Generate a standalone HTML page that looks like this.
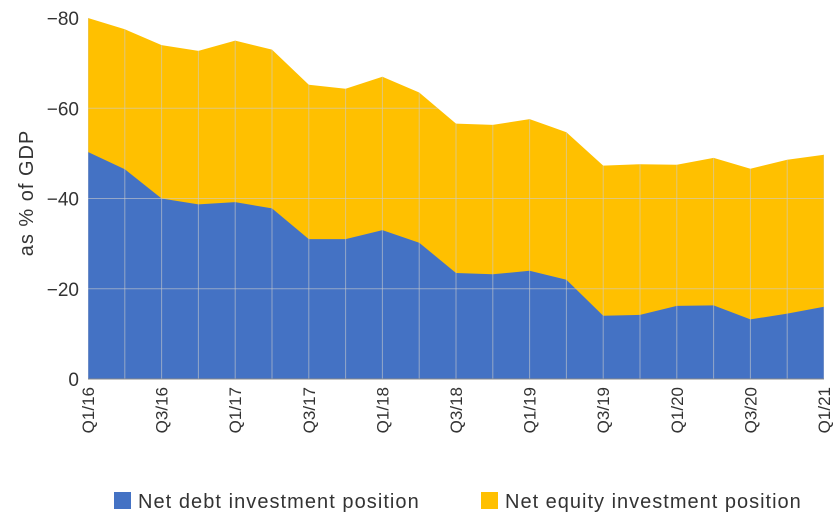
<!DOCTYPE html>
<html><head><meta charset="utf-8"><style>
body{margin:0;background:#fff;}
svg text{font-family:"Liberation Sans",sans-serif;fill:#333;}
</style></head><body>
<svg id="s" width="840" height="525" xmlns="http://www.w3.org/2000/svg"></svg>
<script>
const debt=[50.3,46.5,40,38.7,39.2,37.8,31,31,33,30.2,23.5,23.2,24,22,14,14.2,16.2,16.3,13.2,14.5,16];
const tot=[80,77.5,74,72.7,75,73,65.2,64.3,67,63.5,56.6,56.3,57.6,54.7,47.3,47.6,47.5,49,46.6,48.6,49.7];
const x0=88,x1=824,y0=379,yt=18;
const X=i=>x0+i*(x1-x0)/20, Y=v=>y0-v*(y0-yt)/80;
let h='';
let pt=(a)=>a.map((v,i)=>X(i).toFixed(1)+','+Y(v).toFixed(1)).join(' ');
const totPoly=`${X(0)},${y0} ${pt(tot)} ${X(20)},${y0}`;
h+=`<defs><clipPath id="c"><polygon points="${totPoly}"/></clipPath></defs>`;
h+=`<polygon fill="#ffc000" points="${totPoly}"/>`;
h+=`<polygon fill="#4472c4" points="${X(0)},${y0} ${pt(debt)} ${X(20)},${y0}"/>`;
h+='<g clip-path="url(#c)">';
for(let i=0;i<=20;i++)h+=`<line x1="${X(i)}" x2="${X(i)}" y1="${yt}" y2="${y0}" stroke="#ccc" stroke-opacity="0.6" stroke-width="1"/>`;
for(let v=20;v<=80;v+=20)h+=`<line x1="${x0}" x2="${x1}" y1="${Y(v)}" y2="${Y(v)}" stroke="#ccc" stroke-opacity="0.6"/>`;
h+='</g>';
h+=`<line x1="${x0}" x2="${x1}" y1="${y0}" y2="${y0}" stroke="#888"/>`;
for(let v=0;v<=80;v+=20)h+=`<text x="79" y="${Y(v)+7}" text-anchor="end" font-size="19">${v?'\u2212'+v:0}</text>`;
const labs=['Q1/16','Q3/16','Q1/17','Q3/17','Q1/18','Q3/18','Q1/19','Q3/19','Q1/20','Q3/20','Q1/21'];
labs.forEach((l,k)=>{const x=X(2*k)+6;h+=`<text transform="translate(${x},387) rotate(-90)" text-anchor="end" font-size="17">${l}</text>`});
h+=`<text transform="translate(33,193) rotate(-90)" text-anchor="middle" font-size="20" letter-spacing="1">as % of GDP</text>`;
h+=`<rect x="114" y="492" width="17" height="17" fill="#4472c4"/><text x="138" y="508" font-size="20" letter-spacing="1.05">Net debt investment position</text>`;
h+=`<rect x="481" y="492" width="17" height="17" fill="#ffc000"/><text x="505" y="508" font-size="20" letter-spacing="1">Net equity investment position</text>`;
document.getElementById('s').innerHTML=h;
</script>
</body></html>
